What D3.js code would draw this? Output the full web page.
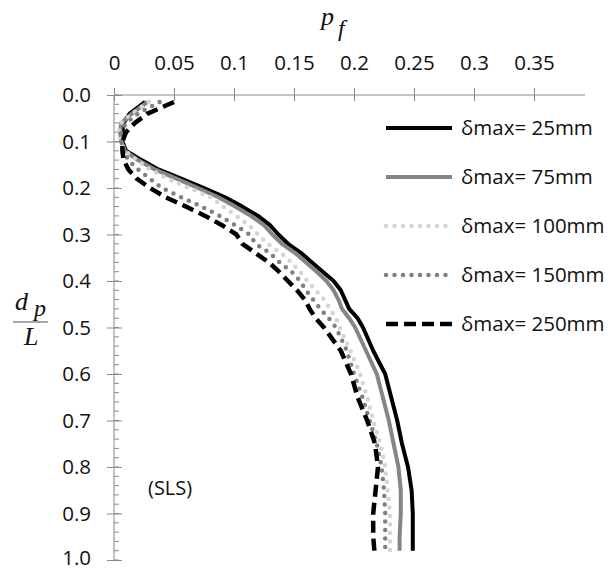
<!DOCTYPE html>
<html>
<head>
<meta charset="utf-8">
<script src="https://cdn.jsdelivr.net/npm/d3@7"></script>
<style>
  body { margin: 0; background: #fff; }
  svg { display: block; }
</style>
</head>
<body>
<script>
// depth ratio d_p / L (shared by every series)
const depth = [0.015, 0.04, 0.06, 0.08, 0.10, 0.12, 0.14, 0.16, 0.18, 0.20,
  0.22, 0.24, 0.26, 0.28, 0.30, 0.32, 0.34, 0.36, 0.38, 0.40,
  0.42, 0.44, 0.46, 0.48, 0.50, 0.55, 0.60, 0.65, 0.70, 0.75,
  0.80, 0.85, 0.90, 0.95, 0.98];

// p_f for each delta max
const pf25 = [0.026, 0.013, 0.008, 0.007, 0.007, 0.010, 0.023, 0.037, 0.056, 0.075,
  0.0925, 0.107, 0.120, 0.130, 0.137, 0.145, 0.156, 0.165, 0.174, 0.183,
  0.189, 0.1925, 0.196, 0.203, 0.2075, 0.216, 0.226, 0.231, 0.236, 0.240,
  0.245, 0.248, 0.249, 0.249, 0.249];
const pf75 = [0.028, 0.015, 0.006, 0.005, 0.006, 0.009, 0.020, 0.034, 0.052, 0.070,
  0.087, 0.101, 0.114, 0.125, 0.132, 0.140, 0.151, 0.160, 0.169, 0.177,
  0.183, 0.187, 0.190, 0.196, 0.201, 0.210, 0.219, 0.224, 0.229, 0.233,
  0.237, 0.239, 0.239, 0.238, 0.238];
const pf100 = [0.029, 0.015, 0.006, 0.004, 0.006, 0.009, 0.019, 0.030, 0.045, 0.0625,
  0.081, 0.091, 0.102, 0.1125, 0.120, 0.128, 0.139, 0.148, 0.155, 0.161,
  0.168, 0.175, 0.180, 0.185, 0.188, 0.197, 0.205, 0.211, 0.216, 0.222,
  0.226, 0.228, 0.230, 0.230, 0.230];
const pf150 = [0.038, 0.020, 0.010, 0.006, 0.006, 0.008, 0.012, 0.020, 0.030, 0.040,
  0.056, 0.073, 0.088, 0.101, 0.113, 0.118, 0.130, 0.138, 0.148, 0.155,
  0.160, 0.166, 0.172, 0.179, 0.185, 0.194, 0.200, 0.207, 0.213, 0.219,
  0.223, 0.225, 0.226, 0.226, 0.226];
const pf250 = [0.050, 0.028, 0.0175, 0.010, 0.007, 0.007, 0.008, 0.012, 0.019, 0.030,
  0.043, 0.060, 0.076, 0.090, 0.102, 0.107, 0.118, 0.129, 0.1375, 0.145,
  0.1525, 0.159, 0.163, 0.168, 0.175, 0.189, 0.1975, 0.203, 0.211, 0.2175,
  0.220, 0.218, 0.216, 0.216, 0.217];

const seriesNames = ["δmax= 25mm", "δmax= 75mm", "δmax= 100mm", "δmax= 150mm", "δmax= 250mm"];
const seriesValues = [pf25, pf75, pf100, pf150, pf250];
const xTicks = [0, 0.05, 0.1, 0.15, 0.2, 0.25, 0.3, 0.35];
const yTicks = [0, 0.1, 0.2, 0.3, 0.4, 0.5, 0.6, 0.7, 0.8, 0.9, 1.0];

const styles = [
  { color: "#000000", width: 4, dash: null, cap: "butt" },
  { color: "#858585", width: 4, dash: null, cap: "butt" },
  { color: "#d4d4d4", width: 4.5, dash: "0 8.5", cap: "round" },
  { color: "#808080", width: 4.5, dash: "0 8.5", cap: "round" },
  { color: "#000000", width: 4.5, dash: "12 6", cap: "butt" }
];

const W = 608, H = 570;
const axisColor = "#8a8a8a";
const font = "'Open Sans', sans-serif";

const svg = d3.select("body").append("svg")
  .attr("width", W)
  .attr("height", H);

const x = d3.scaleLinear().domain([0, 0.3925]).range([114, 585]);
const y = d3.scaleLinear().domain([0, 1]).range([95, 560]);

// top x axis
const xAxis = svg.append("g")
  .attr("transform", `translate(0,${y(0)})`)
  .call(d3.axisTop(x).tickValues(xTicks).tickSize(7).tickPadding(18).tickFormat(d => d));
xAxis.select(".domain").attr("stroke", axisColor).attr("d", `M${x(0)},0H${x.range()[1]}`);
xAxis.selectAll(".tick line").attr("stroke", axisColor).attr("y1", 6).attr("y2", -7);
xAxis.selectAll(".tick text")
  .attr("fill", "#111")
  .style("font-family", font)
  .style("font-size", "20.5px");

// minor ticks on y axis
svg.append("g").selectAll("line")
  .data(d3.range(0, 1.001, 0.02))
  .join("line")
  .attr("x1", x(0)).attr("x2", x(0) + 5)
  .attr("y1", d => y(d)).attr("y2", d => y(d))
  .attr("stroke", axisColor);

// left y axis
const yAxis = svg.append("g")
  .attr("transform", `translate(${x(0)},0)`)
  .call(d3.axisLeft(y).tickValues(yTicks).tickSize(7).tickPadding(16).tickFormat(d3.format(".1f")));
yAxis.select(".domain").attr("stroke", axisColor).attr("d", `M0,${y(0)}V${y(1)}`);
yAxis.selectAll(".tick line").attr("stroke", axisColor).attr("x1", 8).attr("x2", -7);
yAxis.selectAll(".tick text")
  .attr("fill", "#111")
  .style("font-family", font)
  .style("font-size", "20.5px");
// keep the last label inside the page
yAxis.selectAll(".tick text").filter(d => d === 1).attr("dy", "0.2em");

// curves
const line = d3.line()
  .x(d => x(d[1]))
  .y(d => y(d[0]));

seriesValues.forEach((vals, i) => {
  const s = styles[i];
  svg.append("path")
    .datum(depth.map((dp, j) => [dp, vals[j]]))
    .attr("fill", "none")
    .attr("stroke", s.color)
    .attr("stroke-width", s.width)
    .attr("stroke-linecap", s.cap)
    .attr("stroke-linejoin", "round")
    .attr("stroke-dasharray", s.dash)
    .attr("d", line);
});

// legend
const legend = svg.append("g");
seriesNames.forEach((name, i) => {
  const s = styles[i];
  const ly = 128 + i * 49;
  legend.append("line")
    .attr("x1", 386).attr("x2", 452)
    .attr("y1", ly).attr("y2", ly)
    .attr("stroke", s.color)
    .attr("stroke-width", s.width)
    .attr("stroke-linecap", s.cap)
    .attr("stroke-dasharray", s.dash);
  legend.append("text")
    .attr("x", 461).attr("y", ly)
    .attr("dy", "0.35em")
    .attr("fill", "#111")
    .style("font-family", font)
    .style("font-size", "20.5px")
    .text(name);
});

// axis titles
const serif = "'Liberation Serif', 'Times New Roman', serif";
const pt = svg.append("text")
  .attr("font-family", serif)
  .attr("font-style", "italic")
  .attr("fill", "#111");
pt.append("tspan").attr("x", 321).attr("y", 25).style("font-size", "26px").text("p");
pt.append("tspan").attr("x", 338).attr("y", 36).style("font-size", "24px").text("f");

const dt = svg.append("text")
  .attr("font-family", serif)
  .attr("font-style", "italic")
  .attr("fill", "#111");
dt.append("tspan").attr("x", 15).attr("y", 310).style("font-size", "26px").text("d");
dt.append("tspan").attr("x", 34).attr("y", 316).style("font-size", "24px").text("p");
svg.append("line")
  .attr("x1", 13).attr("x2", 48)
  .attr("y1", 322).attr("y2", 322)
  .attr("stroke", "#888")
  .attr("stroke-width", 1.5);
svg.append("text")
  .attr("x", 24).attr("y", 345)
  .attr("font-family", serif)
  .attr("font-style", "italic")
  .attr("fill", "#111")
  .style("font-size", "26px")
  .text("L");

svg.append("text")
  .attr("x", 148).attr("y", 488)
  .attr("dy", "0.35em")
  .attr("fill", "#111")
  .style("font-family", font)
  .style("font-size", "20px")
  .text("(SLS)");
</script>
</body>
</html>
